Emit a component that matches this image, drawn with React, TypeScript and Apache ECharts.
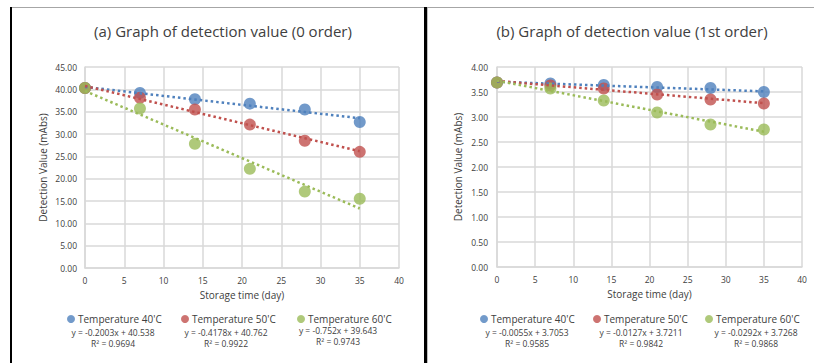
import React, { useEffect, useRef } from "react";
import * as echarts from "echarts";

const days = [0, 7, 14, 21, 28, 35];
const seriesNames = ["Temperature 40'C", "Temperature 50'C", "Temperature 60'C"];
const colors = ["#4F81BD", "#C0504D", "#9BBB59"];

// (a) zero order
const a40 = [40.3, 39.2, 37.8, 36.8, 35.5, 32.7];
const a50 = [40.3, 38.1, 35.5, 32.1, 28.5, 26.0];
const a60 = [40.3, 35.7, 27.8, 22.2, 17.1, 15.5];
const aSlopes = [-0.2003, -0.4178, -0.752];
const aIntercepts = [40.538, 40.762, 39.643];
const aR2 = ["0.9694", "0.9922", "0.9743"];

// (b) first order
const b40 = [3.69, 3.67, 3.64, 3.60, 3.58, 3.50];
const b50 = [3.69, 3.63, 3.57, 3.45, 3.35, 3.27];
const b60 = [3.69, 3.57, 3.33, 3.09, 2.85, 2.75];
const bSlopes = [-0.0055, -0.0127, -0.0292];
const bIntercepts = [3.7053, 3.7211, 3.7268];
const bR2 = ["0.9585", "0.9842", "0.9868"];

const xTicksMax = 40;
const trendStart = 0;
const trendEnd = 35;

const FONT = "Open Sans";

function eqText(slope: number, intercept: number) {
  return `y = ${slope}x + ${intercept}`;
}

export default function App() {
  const ref = useRef<HTMLDivElement>(null);
  useEffect(() => {
    if (!ref.current) return;
    const chart = echarts.init(ref.current, undefined, { renderer: "svg" });

    const grids = [
      { left: 85, top: 67, width: 314, height: 201 },
      { left: 497, top: 67, width: 305, height: 200 },
    ];
    const gridLine = { show: true, lineStyle: { color: "#D9D9D9", width: 1.5 } };
    const axisLabel = { color: "#404040", fontSize: 8.5, fontFamily: FONT };
    const nameStyle = { color: "#404040", fontSize: 10, fontFamily: FONT };

    const xAxes = [0, 1].map((i) => ({
      type: "value",
      gridIndex: i,
      min: 0,
      max: xTicksMax,
      interval: 5,
      name: "Storage time (day)",
      nameLocation: "middle",
      nameGap: 19,
      nameTextStyle: nameStyle,
      axisLine: { show: true, lineStyle: { color: "#D9D9D9", width: 1.5 } },
      axisTick: { show: false },
      axisLabel: { ...axisLabel, margin: 8 },
      splitLine: gridLine,
    }));
    const yAxes = [
      {
        type: "value",
        gridIndex: 0,
        min: 0,
        max: 45,
        interval: 5,
        name: "Detection Value (mAbs)",
        nameLocation: "middle",
        nameGap: 37,
        nameTextStyle: nameStyle,
        axisLine: { show: true, lineStyle: { color: "#D9D9D9", width: 1.5 } },
        axisTick: { show: false },
        axisLabel: { ...axisLabel, margin: 8, formatter: (v: number) => v.toFixed(2) },
        splitLine: gridLine,
      },
      {
        type: "value",
        gridIndex: 1,
        min: 0,
        max: 4,
        interval: 0.5,
        name: "Detection Value (mAbs)",
        nameLocation: "middle",
        nameGap: 34,
        nameTextStyle: nameStyle,
        axisLine: { show: true, lineStyle: { color: "#D9D9D9", width: 1.5 } },
        axisTick: { show: false },
        axisLabel: { ...axisLabel, margin: 9, formatter: (v: number) => v.toFixed(2) },
        splitLine: gridLine,
      },
    ];

    const panels = [
      { data: [a40, a50, a60], slopes: aSlopes, intercepts: aIntercepts },
      { data: [b40, b50, b60], slopes: bSlopes, intercepts: bIntercepts },
    ];
    const series: any[] = [];
    panels.forEach((p, gi) => {
      p.data.forEach((vals, si) => {
        series.push({
          type: "scatter",
          name: seriesNames[si],
          xAxisIndex: gi,
          yAxisIndex: gi,
          symbol: "circle",
          symbolSize: 12,
          itemStyle: { color: colors[si] },
          data: days.map((d, k) => [d, vals[k]]),
          z: 2,
        });
      });
      p.data.forEach((_, si) => {
        series.push({
          type: "line",
          name: "trend-" + gi + "-" + si,
          xAxisIndex: gi,
          yAxisIndex: gi,
          symbol: "none",
          silent: true,
          lineStyle: { color: colors[si], width: 2.5, type: [2.5, 3], cap: "butt" },
          data: [
            [trendStart, p.intercepts[si] + p.slopes[si] * trendStart],
            [trendEnd, p.intercepts[si] + p.slopes[si] * trendEnd],
          ],
          z: 3,
        });
      });
    });

    const legendXs = [
      [62, 176, 292],
      [475, 588, 700],
    ];
    const legends: any[] = [];
    legendXs.forEach((xs) =>
      xs.forEach((x, si) =>
        legends.push({
          left: x,
          top: 309,
          data: [seriesNames[si]],
          icon: "circle",
          itemWidth: 8,
          itemHeight: 8,
          selectedMode: false,
          textStyle: { color: "#404040", fontSize: 10, fontFamily: FONT, padding: [0, 0, 0, -2] },
        })
      )
    );

    const eqPos = [
      [
        [113, 332],
        [226, 332],
        [338, 330],
      ],
      [
        [527, 332],
        [641, 332],
        [756, 332],
      ],
    ];
    const r2s = [aR2, bR2];
    const graphics: any[] = [];
    eqPos.forEach((row, gi) =>
      row.forEach(([x, y], si) => {
        graphics.push({
          type: "text",
          x,
          y,
          style: {
            text: eqText(panels[gi].slopes[si], panels[gi].intercepts[si]),
            fill: "#404040",
            fontSize: 8.5,
            fontFamily: FONT,
            textAlign: "center",
            textVerticalAlign: "middle",
          },
        });
        graphics.push({
          type: "text",
          x,
          y: y + 11,
          style: {
            text: "R\u00B2 = " + r2s[gi][si],
            fill: "#404040",
            fontSize: 8.5,
            fontFamily: FONT,
            textAlign: "center",
            textVerticalAlign: "middle",
          },
        });
      })
    );
    // frame lines
    graphics.push(
      { type: "line", shape: { x1: 10, y1: 7.5, x2: 814, y2: 7.5 }, style: { stroke: "#A6A6A6", lineWidth: 1 } },
      { type: "line", shape: { x1: 11, y1: 7, x2: 11, y2: 363 }, style: { stroke: "#000000", lineWidth: 2 } },
      { type: "line", shape: { x1: 425.5, y1: 7, x2: 425.5, y2: 363 }, style: { stroke: "#000000", lineWidth: 3 } },
      { type: "line", shape: { x1: 427.5, y1: 8, x2: 427.5, y2: 363 }, style: { stroke: "#BFBFBF", lineWidth: 1 } }
    );

    const titleStyle = { color: "#404040", fontSize: 15, fontWeight: "normal", fontFamily: FONT };
    chart.setOption({
      animation: false,
      backgroundColor: "#FFFFFF",
      title: [
        {
          text: "(a) Graph of detection value (0 order)",
          left: 218,
          top: 18,
          textAlign: "center",
          textStyle: titleStyle,
        },
        {
          text: "(b) Graph of detection value (1st order)",
          left: 627,
          top: 18,
          textAlign: "center",
          textStyle: titleStyle,
        },
      ],
      grid: grids,
      xAxis: xAxes,
      yAxis: yAxes,
      legend: legends,
      series,
      graphic: graphics,
    });
    return () => chart.dispose();
  }, []);
  return (
    <div
      ref={ref}
      style={{ position: "fixed", left: 0, top: 0, width: 814, height: 363, background: "#fff" }}
    />
  );
}
